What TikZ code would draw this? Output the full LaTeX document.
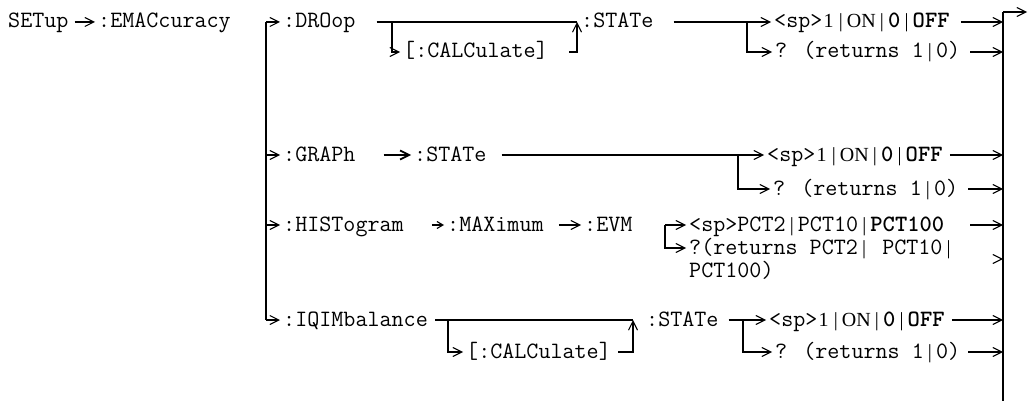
\documentclass[tikz,border=0pt]{standalone}
\usepackage{fontspec}
\newfontfamily\barfont{Liberation Serif}
\usetikzlibrary{arrows.meta}
\newcommand{\cmdfont}{\ttfamily\fontsize{23.4}{23.4}\selectfont}
\newcommand{\serifbit}[1]{{\barfont\fontsize{20}{20}\selectfont #1}}
\newcommand{\vb}{\makebox[0.525em]{\serifbit{|}}}
\newcommand{\onoff}{<sp>\makebox[0.525em]{\serifbit{1}}\vb\serifbit{ON}\vb\textbf{0}\vb\textbf{OFF}}
\newcommand{\query}{? (returns 1\vb 0)}
\newcommand{\toend}[2]{%
  \draw[arr] ([xshift=#2]#1.east) -- (barR |- #1.east);
}

\begin{document}
\begin{tikzpicture}[x=1pt,y=-1pt,
  cmd/.style={font=\cmdfont,anchor=west,inner xsep=3pt,inner ysep=0pt,
    text height=14pt,text depth=2pt},
  link/.style={line width=1.1pt},
  arr/.style={link,-{Straight Barb[length=9pt,width=9pt]}},
  arrsmall/.style={link,-{Straight Barb[length=6pt,width=7pt]}}]
  \useasboundingbox (0,0) rectangle (1028,401);
  \node[cmd] (setup) at (5,22) {SETup};
  \node[cmd] (emac) at (95,22) {:EMACcuracy};
  \draw[arr] ([xshift=3pt]setup.east) -- (emac.west);
  % subsystem bar on the left
  \coordinate (barL) at (266,22);
  \coordinate (thick) at (266,95);
  \node[cmd] (droop) at (280,22) {:DROop};
  \node[cmd] (graph) at (280,155) {:GRAPh};
  \node[cmd] (hist) at (280,225) {:HISTogram};
  \node[cmd] (iqim) at (280,320) {:IQIMbalance};
  \draw[link] (barL) -- (barL |- iqim.west);
  \draw[line width=2pt] (thick) -- (barL |- graph.west);
  \foreach \n in {droop,graph,hist,iqim}
    \draw[arr] (barL |- \n.west) -- (\n.west);
  % return bar on the right
  \coordinate (barR) at (1003,12);
  \coordinate (barRend) at (1003,401);
  \coordinate (exit) at (1027,12);
  \draw[link] (barR) -- (barRend);
  \draw[arr] (barR) -- (exit);

  % :DROop
  \node[cmd] (calc1) at (400,52) {[:CALCulate]};
  \node[cmd] (state1) at (578,22) {:STATe};
  \coordinate (split1) at (392,22);
  \coordinate (merge1) at (577,22);
  \draw[link] ([xshift=18pt]droop.east) -- (merge1);
  \draw[arr] (split1) |- (calc1.west);
  \draw[arr] ([xshift=18pt]calc1.east) -| (merge1);
  \node[cmd] (set0) at (771,22) {\onoff};
  \node[cmd] (ask0) at (772,52) {\query};
  \coordinate (split2) at (747,22);
  \draw[arr] ([xshift=17pt]state1.east) -- (set0.west);
  \draw[arr] (split2) |- (ask0.west);
  \toend{set0}{8pt}
  \toend{ask0}{7pt}

  % :GRAPh
  \node[cmd] (state2) at (411,155) {:STATe};
  \draw[arr,line width=1.7pt] ([xshift=25pt]graph.east) -- (state2.west);
  \node[cmd] (set1) at (764,155) {\onoff};
  \node[cmd] (ask1) at (770,189) {\query};
  \coordinate (split3) at (738,155);
  \draw[arr] ([xshift=12pt]state2.east) -- (set1.west);
  \draw[arr] (split3) |- (ask1.west);
  \toend{set1}{4pt}
  \toend{ask1}{7pt}

  % :HISTogram
  \node[cmd] (max) at (444,225) {:MAXimum};
  \node[cmd] (evm) at (581,225) {:EVM};
  \draw[arrsmall] ([xshift=25pt]hist.east) -- (max.west);
  \draw[arr] ([xshift=12pt]max.east) -- (evm.west);
  \node[cmd] (pct) at (686,225) {<sp>PCT2\vb PCT10\vb\textbf{PCT100}};
  \node[cmd] (askp) at (686,248) {?(returns PCT2\vb{} PCT10\vb};
  \node[cmd] (askp2) at (686,271) {PCT100)};
  \coordinate (split4) at (665,225);
  \coordinate (pqin) at (1003,259);
  \draw[arr] (split4) -- (pct.west);
  \draw[arr] (split4) |- (askp.west);
  \toend{pct}{23pt}
  \draw[arr] ([xshift=-3pt]pqin) -- (pqin);

  % :IQIMbalance
  \node[cmd] (calc2) at (463,352) {[:CALCulate]};
  \node[cmd] (state3) at (643,320) {:STATe};
  \coordinate (split5) at (448,320);
  \coordinate (merge2) at (633,320);
  \draw[link] ([xshift=4pt]iqim.east) -- (merge2);
  \draw[arr] (split5) |- (calc2.west);
  \draw[arr] ([xshift=4pt]calc2.east) -| (merge2);
  \node[cmd] (set3) at (766,320) {\onoff};
  \node[cmd] (ask3) at (772,352) {\query};
  \coordinate (split6) at (743,320);
  \draw[arr] ([xshift=7pt]state3.east) -- (set3.west);
  \draw[arr] (split6) |- (ask3.west);
  \toend{set3}{4pt}
  \toend{ask3}{5pt}
\end{tikzpicture}
\end{document}
